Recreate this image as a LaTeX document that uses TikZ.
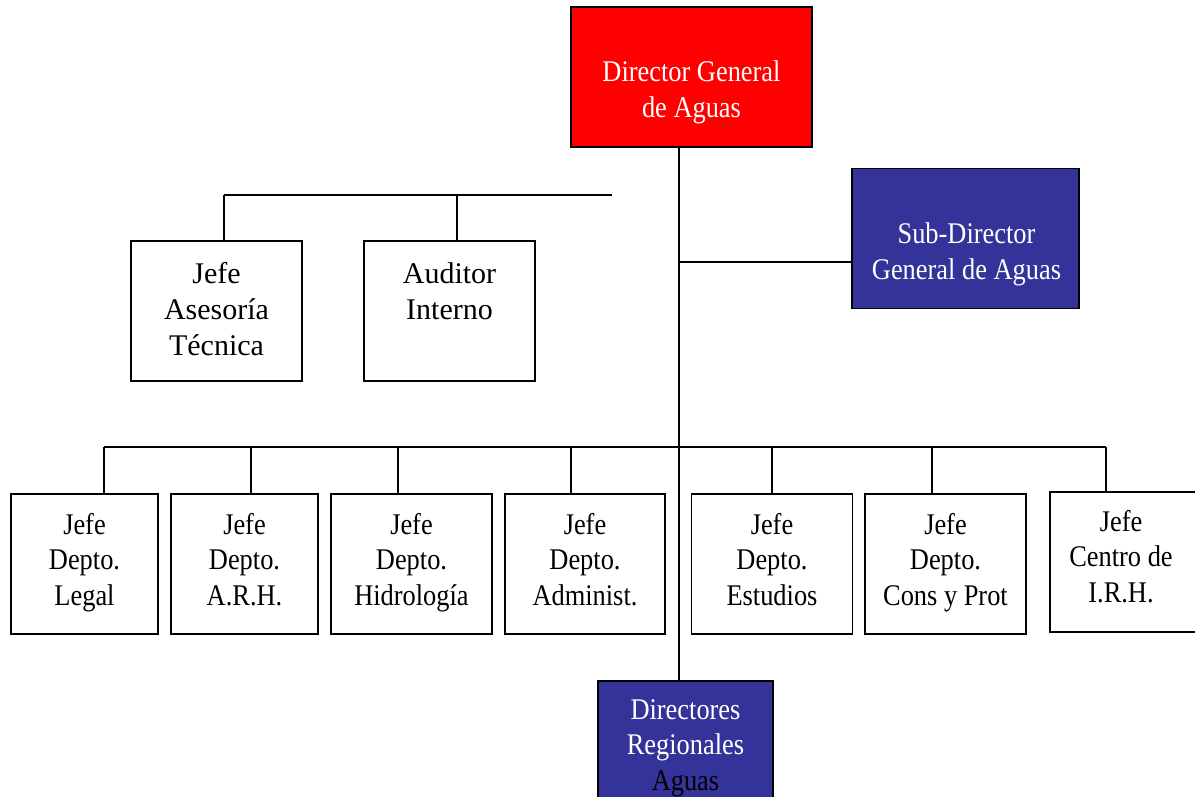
\documentclass[tikz,border=0pt]{standalone}
\usepackage{fontspec}
\setmainfont{Liberation Serif}
\newfontfamily\narrowfont{Liberation Serif}[FakeStretch=0.88]
\usepackage{tikz}
\definecolor{boxblue}{RGB}{51,51,153}
\definecolor{boxred}{RGB}{255,0,0}
\tikzset{
    box/.style={draw=black, inner sep=0pt, minimum height=140pt},
    txt/.style={align=center, inner sep=0pt, font=\narrowfont\fontsize{30}{35.5}\selectfont,
        execute at begin node=\strut, execute at end node=\strut},
    plain/.style={txt, font=\rmfamily\fontsize{30}{36}\selectfont}
}
\begin{document}
\begin{tikzpicture}[x=1pt, y=-1pt, line width=1.5pt]
        \useasboundingbox (0,0) rectangle (1195,796);
        \clip (0,0) rectangle (1195,796);
        % director and sub-director
        \node[box, fill=boxred, minimum width=241pt] (dir-gen) at (691.5,77) {};
        \node[txt, white] at ([yshift=-17.5pt]dir-gen.center) {Director General\\de Aguas};
        \node[box, fill=boxblue, minimum width=227pt] (sub-dir) at (965.5,238.5) {};
        \node[txt, white] at ([xshift=1pt, yshift=-18pt]sub-dir.center) {Sub-Director\\General de Aguas};
        % staff
        \node[box, minimum width=171pt] (jefe-at) at (216.5,311) {};
        \node[plain] at ([yshift=-3.5pt]jefe-at.center) {Jefe\\Asesoría\\Técnica};
        \node[box, minimum width=171pt] (auditor) at (449.5,311) {};
        \node[plain] at ([yshift=14.5pt]auditor.center) {Auditor\\Interno};
        % departments
        \foreach \n/\x/\w/\lbl in {legal/84.5/147/{Jefe\\Depto.\\Legal},
                arh/244.5/147/{Jefe\\Depto.\\A.R.H.},
                hidro/411.5/161/{Jefe\\Depto.\\Hidrología},
                admin/585/160/{Jefe\\Depto.\\Administ.},
                estud/772/161/{Jefe\\Depto.\\Estudios},
                cons/945.5/161/{Jefe\\Depto.\\Cons y Prot}} {
            \node[box, minimum width=\w pt] (\n) at (\x,564) {};
            \node[txt] at ([yshift=-0.5pt]\n.center) {\lbl};
        }
        \node[box, minimum width=146pt] (irh) at (1123,562) {};
        \node[txt] at ([xshift=-2pt, yshift=0.5pt]irh.center) {Jefe\\Centro de\\I.R.H.};
        \node[box, fill=boxblue, minimum width=175pt] (reg) at (685.5,751) {};
        \node[txt, white] at ([yshift=1pt]reg.center) {Directores\\Regionales\\\textcolor{black}{Aguas}};
        % lines
        \coordinate (trunk) at (679,447);
        \draw (dir-gen.south -| trunk) -- (reg.north -| trunk);
        \coordinate (s-join) at (679,262);
        \draw (s-join) -- (s-join -| sub-dir.west);
        \coordinate (a-jefe) at (224,195);
        \coordinate (a-aud) at (457,195);
        \coordinate (a-end) at (612,195);
        \draw (a-jefe) -- (a-end);
        \draw (a-jefe) -- (a-jefe |- jefe-at.north);
        \draw (a-aud) -- (a-aud |- auditor.north);
        \foreach \n/\x in {legal/104, arh/251, hidro/398, admin/571, estud/772, cons/932, irh/1106} {
            \coordinate (b-\n) at (\x,447);
            \draw (b-\n) -- (b-\n |- \n.north);
        }
        \draw (b-legal) -- (b-irh);
\end{tikzpicture}
\end{document}
